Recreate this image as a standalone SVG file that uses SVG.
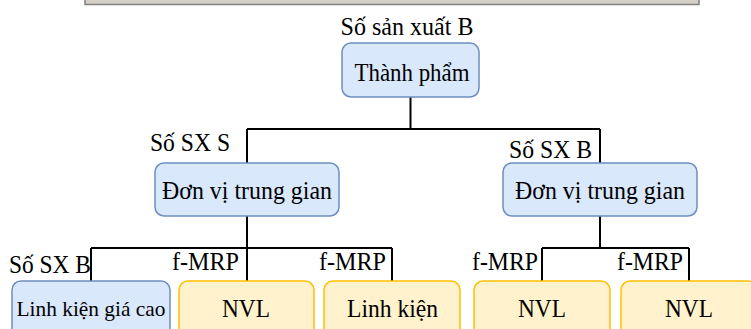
<svg xmlns="http://www.w3.org/2000/svg" width="751" height="329" viewBox="0 0 751 329">
<style>
.blue{fill:#dae8fc;stroke:#6c8ebf;stroke-width:1.5}
.yellow{fill:#fff2cc;stroke:#ffc000;stroke-width:1.5}
.t{font-family:"Liberation Serif","Times New Roman",serif;font-size:25px;fill:#000}
.s{font-size:21.5px}
.c{text-anchor:middle}
.e{text-anchor:end}
.conn{fill:none;stroke:#000;stroke-width:2}
</style>
<rect x="85" y="-3" width="614" height="7.5" fill="#d4d0c8" stroke="#808080" stroke-width="1.5"/>
<g id="connectors">
<path class="conn" d="M410.5 97V129M247 129H600M247 129V163M600 129V163"/>
<path class="conn" d="M247 216V248M91 248H392M91 248V281M247 248V281M392 248V281"/>
<path class="conn" d="M600 216V248M542 248H689M542 248V281M689 248V281"/>
</g>
<g id="labels">
<text class="t c" x="407" y="35" textLength="133" lengthAdjust="spacingAndGlyphs">Số sản xuất B</text>
<text class="t e" x="230" y="151" textLength="80" lengthAdjust="spacingAndGlyphs">Số SX S</text>
<text class="t e" x="592" y="158" textLength="83" lengthAdjust="spacingAndGlyphs">Số SX B</text>
<text class="t e" x="91" y="273" textLength="82" lengthAdjust="spacingAndGlyphs">Số SX B</text>
<text class="t e" x="239" y="270" textLength="67" lengthAdjust="spacingAndGlyphs">f-MRP</text>
<text class="t e" x="386" y="270" textLength="67" lengthAdjust="spacingAndGlyphs">f-MRP</text>
<text class="t e" x="538" y="270" textLength="66" lengthAdjust="spacingAndGlyphs">f-MRP</text>
<text class="t e" x="683" y="270" textLength="66" lengthAdjust="spacingAndGlyphs">f-MRP</text>
</g>
<g id="thanh-pham">
<rect class="blue" x="342" y="43" width="137" height="54" rx="9"/>
<text class="t c" x="412" y="81" textLength="115" lengthAdjust="spacingAndGlyphs">Thành phẩm</text>
</g>
<g id="don-vi-1">
<rect class="blue" x="155" y="163" width="184" height="53" rx="9"/>
<text class="t c" x="247" y="199" textLength="170" lengthAdjust="spacingAndGlyphs">Đơn vị trung gian</text>
</g>
<g id="don-vi-2">
<rect class="blue" x="503" y="163" width="194" height="53" rx="9"/>
<text class="t c" x="600" y="199" textLength="170" lengthAdjust="spacingAndGlyphs">Đơn vị trung gian</text>
</g>
<g id="linh-kien-gia-cao">
<rect class="blue" x="12" y="281" width="158" height="60" rx="9"/>
<text class="t s c" x="91" y="315.5" textLength="149" lengthAdjust="spacingAndGlyphs">Linh kiện giá cao</text>
</g>
<g id="nvl-1">
<rect class="yellow" x="179" y="281" width="135" height="60" rx="9"/>
<text class="t c" x="246" y="317" textLength="48" lengthAdjust="spacingAndGlyphs">NVL</text>
</g>
<g id="linh-kien">
<rect class="yellow" x="324" y="281" width="136" height="60" rx="9"/>
<text class="t c" x="392.5" y="317" textLength="91" lengthAdjust="spacingAndGlyphs">Linh kiện</text>
</g>
<g id="nvl-2">
<rect class="yellow" x="474" y="281" width="136" height="60" rx="9"/>
<text class="t c" x="542" y="317" textLength="48" lengthAdjust="spacingAndGlyphs">NVL</text>
</g>
<g id="nvl-3">
<rect class="yellow" x="621" y="281" width="136" height="60" rx="9"/>
<text class="t c" x="689" y="317" textLength="48" lengthAdjust="spacingAndGlyphs">NVL</text>
</g>
</svg>
